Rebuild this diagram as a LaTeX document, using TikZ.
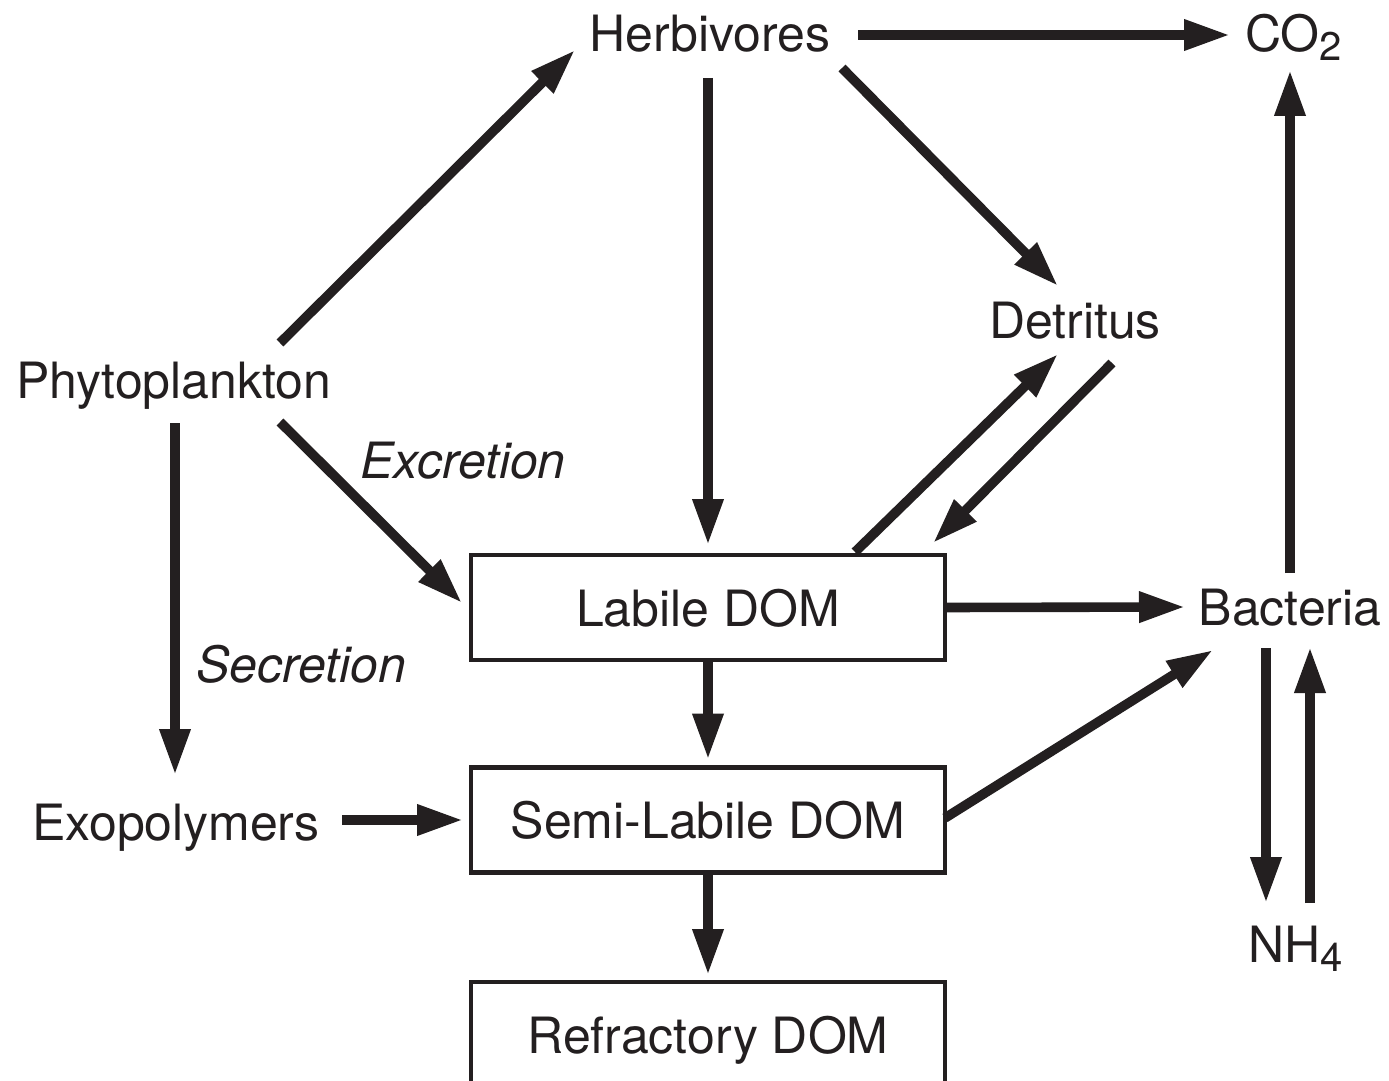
\documentclass[tikz,border=0pt]{standalone}
\usepackage{fontspec}
\setmainfont{TeX Gyre Heros}
\usetikzlibrary{arrows.meta,calc}
\definecolor{ink}{HTML}{231F20}
\newcommand\subdn[1]{\raisebox{-4.5pt}{\fontsize{20}{22}\selectfont #1}}
\begin{document}
\begin{tikzpicture}[x=0.5pt,y=-0.5pt,
  lbl/.style={inner sep=0pt, outer sep=0pt, text=ink, font=\fontsize{25}{30}\selectfont},
  dombox/.style={draw=ink, text=ink, line width=2.1pt, inner sep=0pt, outer sep=0pt,
    minimum width=237pt, minimum height=52.5pt, text depth=0pt,
    font=\fontsize{25}{30}\selectfont},
  arr/.style={draw=ink, line width=4.8pt, -{Triangle[length=23pt,width=14.5pt]}}]
\clip (0,0) rectangle (1389,1081);
\fill[white] (0,0) rectangle (1389,1081);

% text nodes
\node[lbl, anchor=base] (herb) at (710,52) {Herbivores};
\node[lbl, anchor=base west] (co2) at (1245,52) {CO\subdn{2}};
\node[lbl, anchor=base] (phyto) at (174,398) {Phytoplankton};
\node[lbl, anchor=base] (det) at (1075,338) {Detritus};
\node[lbl, anchor=base] (excr) at (463,478) {\itshape Excretion};
\node[lbl, anchor=base] (secr) at (301,682) {\itshape Secretion};
\node[lbl, anchor=base] (exo) at (176,840) {Exopolymers};
\node[lbl, anchor=base] (bact) at (1290,625) {Bacteria};
\node[lbl, anchor=base west] (nh4) at (1248,962) {NH\subdn{4}};

% boxes
\node[dombox] (lab) at (708,607.5) {Labile DOM};
\node[dombox] (semi) at (708,820) {Semi-Labile DOM};
\node[dombox] (refr) at (708,1034.5) {Refractory DOM};

% connectors
\draw[arr] ($(herb.base)+(148,-17)$) -- ($(co2.base west)+(-15,-17)$);
\draw[arr] ($(phyto.base)+(106,-55)$) -- ($(herb.base)+(-135,-2)$);
\draw[arr] ($(herb.base)+(-2,26)$) -- ($(lab.north)+(0,-10)$);
\draw[arr] ($(herb.base)+(132,16)$) -- ($(det.base)+(-17,-52)$);
\draw[arr] ($(phyto.base)+(106,24)$) -- ($(lab.west)+(-9,-4.5)$);
\draw[arr] ($(phyto.base)+(1,25)$) -- ($(exo.base)+(-1,-65)$);
\draw[arr] ($(lab.north)+(147,-3)$) -- ($(det.base)+(-17,16)$);
\draw[arr] ($(det.base)+(37,25)$) -- ($(lab.north)+(225,-12)$);
\draw[arr] (lab.east) -- ($(bact.base)+(-105,-18)$);
\draw[arr] (lab.south) -- ($(semi.north)+(0,-8)$);
\draw[arr] ($(exo.base)+(166,-20)$) -- ($(semi.west)+(-8,0)$);
\draw[arr] ($(semi.east)+(0,-2)$) -- ($(bact.base)+(-77,25)$);
\draw[arr] (semi.south) -- ($(refr.north)+(0,-7)$);
\draw[arr] ($(bact.base)+(0,-52)$) -- ($(co2.base west)+(45,18)$);
\draw[arr] ($(bact.base)+(-24,23)$) -- ($(nh4.base west)+(18,-59)$);
\draw[arr] ($(nh4.base west)+(62,-59)$) -- ($(bact.base)+(20,22)$);
\end{tikzpicture}
\end{document}
